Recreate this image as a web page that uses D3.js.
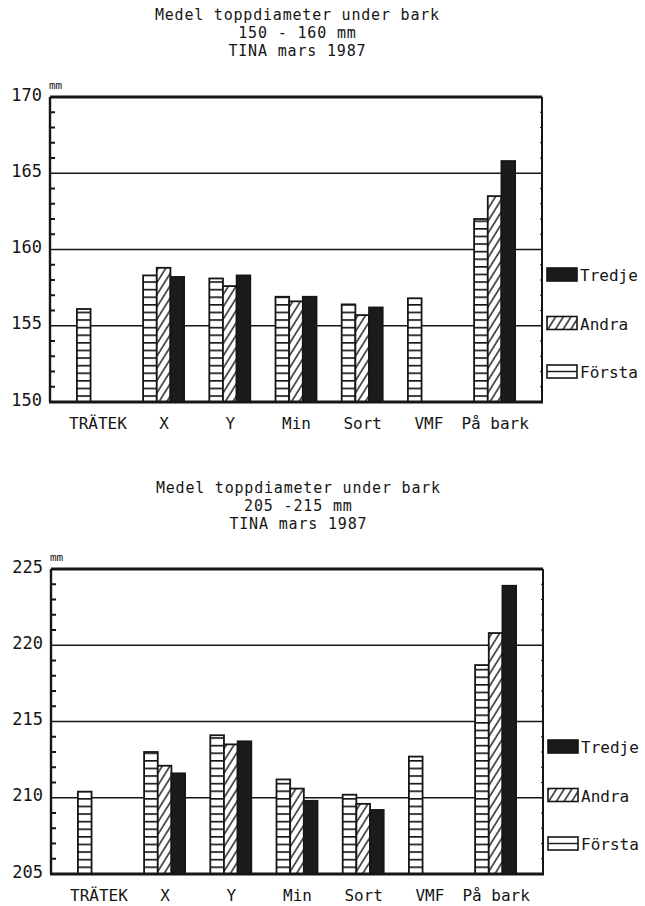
<!DOCTYPE html>
<html>
<head>
<meta charset="utf-8">
<script src="https://cdn.jsdelivr.net/npm/d3@7/dist/d3.min.js"></script>
<style>
  html, body { margin: 0; padding: 0; background: #fff; }
  svg { display: block; }
  text { font-family: "DejaVu Sans Mono", monospace; fill: #161616; }
</style>
</head>
<body>
<script>
// Categories along the x axis and the three measurement rounds
const categories = ["TRÄTEK", "X", "Y", "Min", "Sort", "VMF", "På bark"];
const seriesNames = ["Första", "Andra", "Tredje"];
const legendOrder = ["Tredje", "Andra", "Första"];

// Class 150 - 160 mm (mean top diameter under bark, mm)
const forsta150 = [156.1, 158.3, 158.1, 156.9, 156.4, 156.8, 162.0];
const andra150  = [null,  158.8, 157.6, 156.6, 155.7, null,  163.5];
const tredje150 = [null,  158.2, 158.3, 156.9, 156.2, null,  165.8];
const yTicks150 = [150, 155, 160, 165, 170];
const title150 = ["Medel toppdiameter under bark", "150 - 160 mm", "TINA mars 1987"];

// Class 205 - 215 mm
const forsta205 = [210.4, 213.0, 214.1, 211.2, 210.2, 212.7, 218.7];
const andra205  = [null,  212.1, 213.5, 210.6, 209.6, null,  220.8];
const tredje205 = [null,  211.6, 213.7, 209.8, 209.2, null,  223.9];
const yTicks205 = [205, 210, 215, 220, 225];
const title205 = ["Medel toppdiameter under bark", "205 -215 mm", "TINA mars 1987"];

const unitLabel = "mm";

const W = 645, H = 906;
const ink = "#161616";

const svg = d3.select("body").append("svg")
  .attr("width", W).attr("height", H)
  .attr("viewBox", `0 0 ${W} ${H}`);

// Fill patterns: ladder rungs (Första), diagonal hatch (Andra)
const defs = svg.append("defs");
const rungs = defs.append("pattern")
  .attr("id", "pat-forsta")
  .attr("patternUnits", "userSpaceOnUse")
  .attr("width", 40).attr("height", 7.6);
rungs.append("rect").attr("width", 40).attr("height", 7.6).attr("fill", "#fff");
rungs.append("line")
  .attr("x1", 0).attr("x2", 40).attr("y1", 0.8).attr("y2", 0.8)
  .attr("stroke", ink).attr("stroke-width", 1.6);

const hatch = defs.append("pattern")
  .attr("id", "pat-andra")
  .attr("patternUnits", "userSpaceOnUse")
  .attr("width", 6.5).attr("height", 20)
  .attr("patternTransform", "rotate(32)");
hatch.append("rect").attr("width", 6.5).attr("height", 20).attr("fill", "#fff");
hatch.append("line")
  .attr("x1", 1).attr("x2", 1).attr("y1", 0).attr("y2", 20)
  .attr("stroke", ink).attr("stroke-width", 1.4);

const fills = { "Första": "url(#pat-forsta)", "Andra": "url(#pat-andra)", "Tredje": "#1b1b1b" };

function drawChart(cfg) {
  const { left, right, top, bottom, titleY, ticks, title, series } = cfg;
  const g = svg.append("g");

  const y = d3.scaleLinear()
    .domain([ticks[0], ticks[ticks.length - 1]])
    .range([bottom, top]);

  const x = d3.scalePoint()
    .domain(categories)
    .range([left, right])
    .padding(0.716);

  const xSub = d3.scaleBand()
    .domain(seriesNames)
    .range([-20.5, 20.5]);

  // Title, three centred lines in a wide-spaced plotter style
  g.append("g").selectAll("text")
    .data(title)
    .join("text")
    .attr("x", (left + right) / 2 + 1)
    .attr("y", (d, i) => titleY + i * 18)
    .attr("text-anchor", "middle")
    .attr("font-size", 15)
    .attr("textLength", d => d.length * 9.8)
    .attr("lengthAdjust", "spacing")
    .text(d => d);

  // Horizontal grid lines at the labelled values
  g.append("g").selectAll("line")
    .data(ticks.slice(1, -1))
    .join("line")
    .attr("x1", left).attr("x2", right)
    .attr("y1", d => y(d)).attr("y2", d => y(d))
    .attr("stroke", ink).attr("stroke-width", 1.6);

  // Bars
  const rows = categories.map((c, i) => ({
    cat: c,
    vals: seriesNames.map((s, k) => ({ s, v: series[k][i] })).filter(d => d.v != null)
  }));
  g.append("g").selectAll("g")
    .data(rows)
    .join("g")
    .attr("transform", d => `translate(${x(d.cat)},0)`)
    .selectAll("rect")
    .data(d => d.vals)
    .join("rect")
    .attr("x", d => xSub(d.s))
    .attr("width", xSub.bandwidth())
    .attr("y", d => y(d.v))
    .attr("height", d => bottom - y(d.v))
    .attr("fill", d => fills[d.s])
    .attr("stroke", ink)
    .attr("stroke-width", 1.8);

  // Frame: heavy top and bottom, lighter sides
  g.append("line").attr("x1", left).attr("x2", right).attr("y1", top).attr("y2", top)
    .attr("stroke", ink).attr("stroke-width", 3);
  g.append("line").attr("x1", left - 1).attr("x2", right + 1).attr("y1", bottom).attr("y2", bottom)
    .attr("stroke", ink).attr("stroke-width", 3.2);
  g.append("line").attr("x1", left).attr("x2", left).attr("y1", top).attr("y2", bottom)
    .attr("stroke", ink).attr("stroke-width", 2.4);
  g.append("line").attr("x1", right).attr("x2", right).attr("y1", top).attr("y2", bottom)
    .attr("stroke", ink).attr("stroke-width", 2);

  // Minor ticks every unit on the inside of the left axis
  const minor = d3.range(ticks[0] + 1, ticks[ticks.length - 1]).filter(v => (v - ticks[0]) % 5 !== 0);
  g.append("g").selectAll("line")
    .data(minor)
    .join("line")
    .attr("x1", left).attr("x2", left + 5)
    .attr("y1", d => y(d)).attr("y2", d => y(d))
    .attr("stroke", ink).attr("stroke-width", 2);
  g.append("g").selectAll("line")
    .data(minor)
    .join("line")
    .attr("x1", right - 2).attr("x2", right)
    .attr("y1", d => y(d)).attr("y2", d => y(d))
    .attr("stroke", ink).attr("stroke-width", 1.2);

  // Y tick labels
  const yAxis = g.append("g")
    .attr("transform", `translate(${left},0)`)
    .call(d3.axisLeft(y).tickValues(ticks).tickSize(0).tickPadding(8).tickFormat(d3.format("d")));
  yAxis.select(".domain").remove();
  yAxis.selectAll("text")
    .attr("font-family", "DejaVu Sans Mono, monospace")
    .attr("font-size", 17)
    .attr("fill", ink)
    .attr("dy", "0.18em");

  // Unit
  g.append("text")
    .attr("x", left - 1).attr("y", top - 8)
    .attr("font-size", 11)
    .attr("fill", ink)
    .text(unitLabel);

  // X category labels
  const xAxis = g.append("g")
    .attr("transform", `translate(0,${bottom})`)
    .call(d3.axisBottom(x).tickSize(0).tickPadding(16));
  xAxis.select(".domain").remove();
  xAxis.selectAll("text")
    .attr("font-family", "DejaVu Sans Mono, monospace")
    .attr("font-size", 16)
    .attr("fill", ink);

  // Legend to the right of the plot
  const legend = g.append("g").selectAll("g")
    .data(legendOrder)
    .join("g")
    .attr("transform", (d, i) => `translate(${right + 5},${top + 171 + i * 48.5})`);
  legend.append("rect")
    .attr("width", 30).attr("height", 13)
    .attr("fill", d => d === "Första" ? "#fff" : fills[d])
    .attr("stroke", ink).attr("stroke-width", 1.6);
  legend.filter(d => d === "Första").append("line")
    .attr("x1", 0).attr("x2", 30).attr("y1", 6.5).attr("y2", 6.5)
    .attr("stroke", ink).attr("stroke-width", 1.4);
  legend.append("text")
    .attr("x", 33).attr("y", 13)
    .attr("font-size", 16)
    .text(d => d);
}

drawChart({
  left: 50, right: 542, top: 97, bottom: 402, titleY: 20,
  ticks: yTicks150, title: title150,
  series: [forsta150, andra150, tredje150]
});

drawChart({
  left: 51, right: 543, top: 569, bottom: 874, titleY: 493,
  ticks: yTicks205, title: title205,
  series: [forsta205, andra205, tredje205]
});
</script>
</body>
</html>
